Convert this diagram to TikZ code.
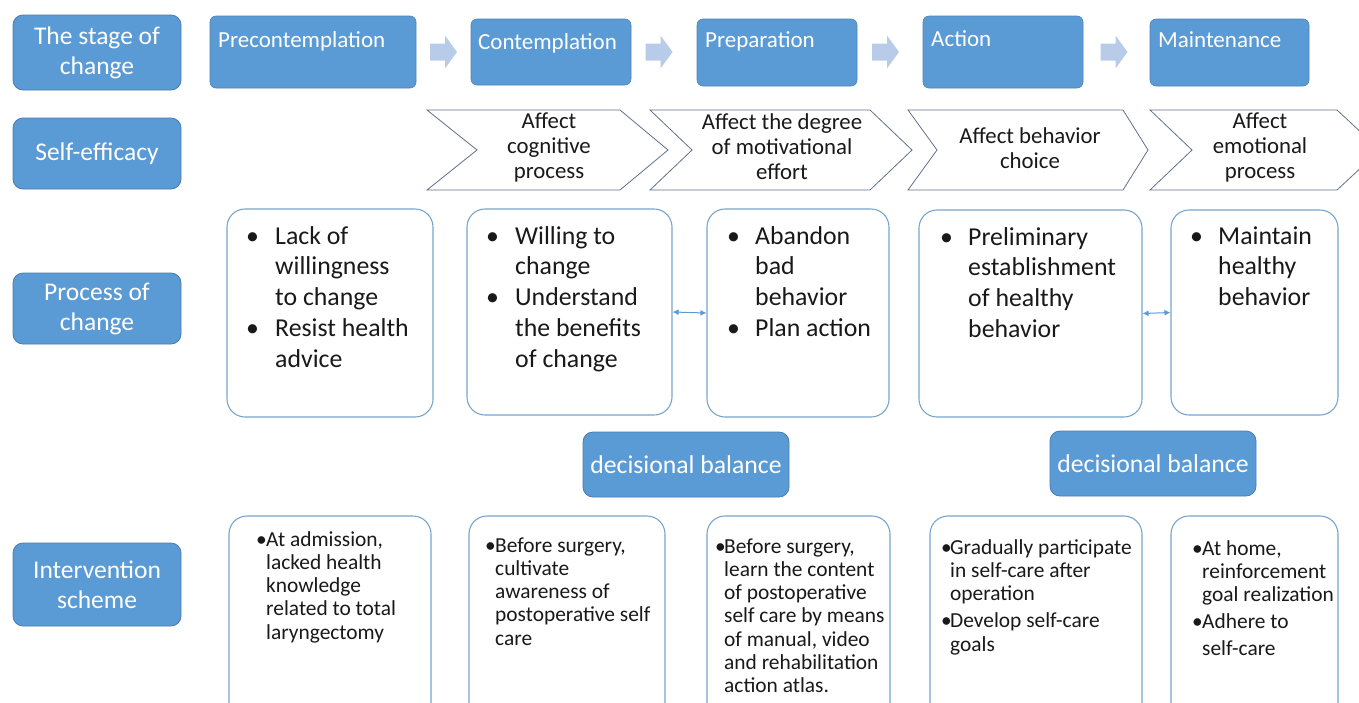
\documentclass[tikz,border=0pt]{standalone}
\usepackage{fontspec}
\setmainfont{Carlito}
\usetikzlibrary{arrows.meta}

\definecolor{boxblue}{RGB}{91,155,213}
\definecolor{boxedge}{RGB}{72,124,176}
\definecolor{paleedge}{RGB}{120,165,205}
\definecolor{arrowblue}{RGB}{184,203,233}
\definecolor{chevedge}{RGB}{96,114,140}
\definecolor{inktext}{RGB}{25,25,25}

% bulleted paragraph with a hanging indent: #1 = indent, #2 = lines split by \\
\newcommand\bul[2]{\par\begingroup\let\\\newline
  \hangindent=#1\hangafter=1\noindent\makebox[#1][l]{\textbullet}#2\par\endgroup}
% a line break followed by a little extra space
\newcommand\gapbreak[1]{\vadjust{\vskip#1}\newline}

\begin{document}
\begin{tikzpicture}[x=1pt,y=-1pt,
  bluebox/.style={draw=boxedge, fill=boxblue, line width=0.8pt, rounded corners=10pt,
    text=white, inner sep=0pt, align=center},
  lbl/.style={bluebox, minimum width=168pt, font=\fontsize{25.5}{30}\selectfont},
  stagebox/.style={draw=boxblue!85!black, fill=boxblue, line width=0.6pt, rounded corners=6pt, inner sep=0pt},
  stagetext/.style={text=white, inner sep=0pt, anchor=base west, font=\fontsize{23}{26}\selectfont},
  chev/.style={draw=chevedge, fill=white, line width=0.8pt, line join=miter},
  chevtext/.style={text=inktext, align=center, inner sep=0pt, font=\fontsize{22.8}{25}\selectfont},
  whitebox/.style={draw=paleedge, fill=white, line width=1.1pt, rounded corners=18pt, inner sep=0pt},
  bigtext/.style={text=inktext, inner sep=0pt, anchor=base west, font=\fontsize{25.8}{30.8}\selectfont},
  smalltext/.style={text=inktext, inner sep=0pt, anchor=base west, font=\fontsize{21.4}{23.3}\selectfont},
  dblarrow/.style={draw=boxblue, line width=1pt, {Latex[length=6pt,width=6pt]}-{Latex[length=6pt,width=6pt]}},
  blockarrow/.style={fill=arrowblue, draw=none}
]
\useasboundingbox (0,0) rectangle (1359,702);

% row labels
\node[lbl, minimum height=75pt] (lstage) at (97,52.5) {The stage of\\change};
\node[lbl, minimum height=71pt] (lself) at (97,153.5) {Self-efficacy};
\node[lbl, minimum height=71pt] (lproc) at (97,308.5) {Process of\\change};
\node[lbl, minimum height=83pt] (lint) at (97,584.5) {Intervention\\scheme};

% stages of change
\node[stagebox, minimum width=206pt, minimum height=72pt] (pre) at (313,52) {};
\node[stagebox, minimum width=160pt, minimum height=66pt] (con) at (551,52) {};
\node[stagebox, minimum width=160pt, minimum height=67pt] (prep) at (777,52.5) {};
\node[stagebox, minimum width=160pt, minimum height=72pt] (act) at (1003,52) {};
\node[stagebox, minimum width=159pt, minimum height=67pt] (main) at (1229.5,52.5) {};
\node[stagetext] (pre-t) at (218,47) {Precontemplation};
\node[stagetext] (con-t) at (478,49) {Contemplation};
\node[stagetext] (prep-t) at (705,47) {Preparation};
\node[stagetext] (act-t) at (931,46) {Action};
\node[stagetext] (main-t) at (1158,47) {Maintenance};

% block arrows between stages
\coordinate (a1) at (443.5,52);
\coordinate (a2) at (659,52);
\coordinate (a3) at (885.5,52);
\coordinate (a4) at (1114,52);
\foreach \a in {a1,a2,a3,a4}{
  \fill[blockarrow, shift={(\a)}] (-13.5,-8.5) -- (1.5,-8.5) -- (1.5,-16.5) -- (13.5,0)
    -- (1.5,16.5) -- (1.5,8.5) -- (-13.5,8.5) -- cycle;
}

% self-efficacy chevrons
\draw[chev] (427,110) -- (620,110) -- (668,150) -- (620,190) -- (427,190) -- (477,150) -- cycle;
\draw[chev] (650,110) -- (870,110) -- (912,150) -- (870,190) -- (650,190) -- (692,150) -- cycle;
\draw[chev] (908,110) -- (1123,110) -- (1148,150) -- (1123,190) -- (908,190) -- (937,150) -- cycle;
\draw[chev] (1150,110) -- (1337,110) -- (1380,150) -- (1337,190) -- (1150,190) -- (1192,150) -- cycle;
\node[chevtext] (c1) at (549,147) {Affect\\cognitive\\process};
\node[chevtext] (c2) at (782,147) {Affect the degree\\of motivational\\effort};
\node[chevtext] (c3) at (1030,148) {Affect behavior\\choice};
\node[chevtext] (c4) at (1260,147) {Affect\\emotional\\process};

% processes of change
\node[whitebox, minimum width=206pt, minimum height=208pt] (p1) at (330,313) {};
\node[whitebox, minimum width=205pt, minimum height=206pt] (p2) at (569.5,312) {};
\node[whitebox, minimum width=182pt, minimum height=208pt] (p3) at (798,313) {};
\node[whitebox, minimum width=223pt, minimum height=207pt] (p4) at (1030.5,313.5) {};
\node[whitebox, minimum width=167pt, minimum height=205pt] (p5) at (1254.5,312.5) {};

\node[bigtext] (p1-t) at (246,244) {\parbox[t]{200pt}{\raggedright
  \bul{29pt}{Lack of\\willingness\\to change}\bul{29pt}{Resist health\\advice}}};
\node[bigtext] (p2-t) at (486,244) {\parbox[t]{200pt}{\raggedright
  \bul{29pt}{Willing to\\change}\bul{29pt}{Understand\\the benefits\\of change}}};
\node[bigtext] (p3-t) at (727,244) {\parbox[t]{200pt}{\raggedright
  \bul{28pt}{Abandon\\bad\\behavior}\bul{28pt}{Plan action}}};
\node[bigtext] (p4-t) at (940,245) {\parbox[t]{200pt}{\raggedright
  \bul{28pt}{Preliminary\\establishment\\of healthy\\behavior}}};
\node[bigtext] (p5-t) at (1190,244) {\parbox[t]{200pt}{\raggedright
  \bul{28pt}{Maintain\\healthy\\behavior}}};

\draw[dblarrow] (p2.east) -- (p3.west);
\draw[dblarrow] (p4.east) -- (p5.west);

% decisional balance
\node[bluebox, minimum width=206pt, minimum height=65pt, font=\fontsize{25.7}{28}\selectfont] (d1) at (686,464.5) {decisional balance};
\node[bluebox, minimum width=206pt, minimum height=65pt, font=\fontsize{25.7}{28}\selectfont] (d2) at (1153,463.5) {decisional balance};

% intervention scheme
\node[whitebox, minimum width=202pt, minimum height=214pt] (i1) at (330,623) {};
\node[whitebox, minimum width=196pt, minimum height=214pt] (i2) at (567,623) {};
\node[whitebox, minimum width=183pt, minimum height=214pt] (i3) at (798.5,623) {};
\node[whitebox, minimum width=212pt, minimum height=214pt] (i4) at (1036,623) {};
\node[whitebox, minimum width=167pt, minimum height=214pt] (i5) at (1254.5,623) {};

\node[smalltext] (i1-t) at (256,546) {\parbox[t]{200pt}{\raggedright
  \bul{10pt}{At admission,\\lacked health\\knowledge\\related to total\\laryngectomy}}};
\node[smalltext] (i2-t) at (485,552) {\parbox[t]{200pt}{\raggedright
  \bul{10pt}{Before surgery,\\cultivate\\awareness of\\postoperative self\\care}}};
\node[smalltext] (i3-t) at (715,553) {\parbox[t]{200pt}{\raggedright
  \bul{9pt}{Before surgery,\\learn the content\\of postoperative\\self care by means\\of manual, video\\and rehabilitation\\action atlas.}}};
\node[smalltext] (i4-t) at (941,554) {\parbox[t]{220pt}{\raggedright
  \bul{9pt}{Gradually participate\\in self-care after\\operation}\vspace{4pt}\bul{9pt}{Develop self-care\\goals}}};
\node[smalltext] (i5-t) at (1192,555) {\parbox[t]{200pt}{\raggedright
  \bul{10pt}{At home,\\reinforcement\\goal realization}\vspace{4pt}\bul{10pt}{Adhere to\gapbreak{3pt}self-care}}};
\end{tikzpicture}
\end{document}
